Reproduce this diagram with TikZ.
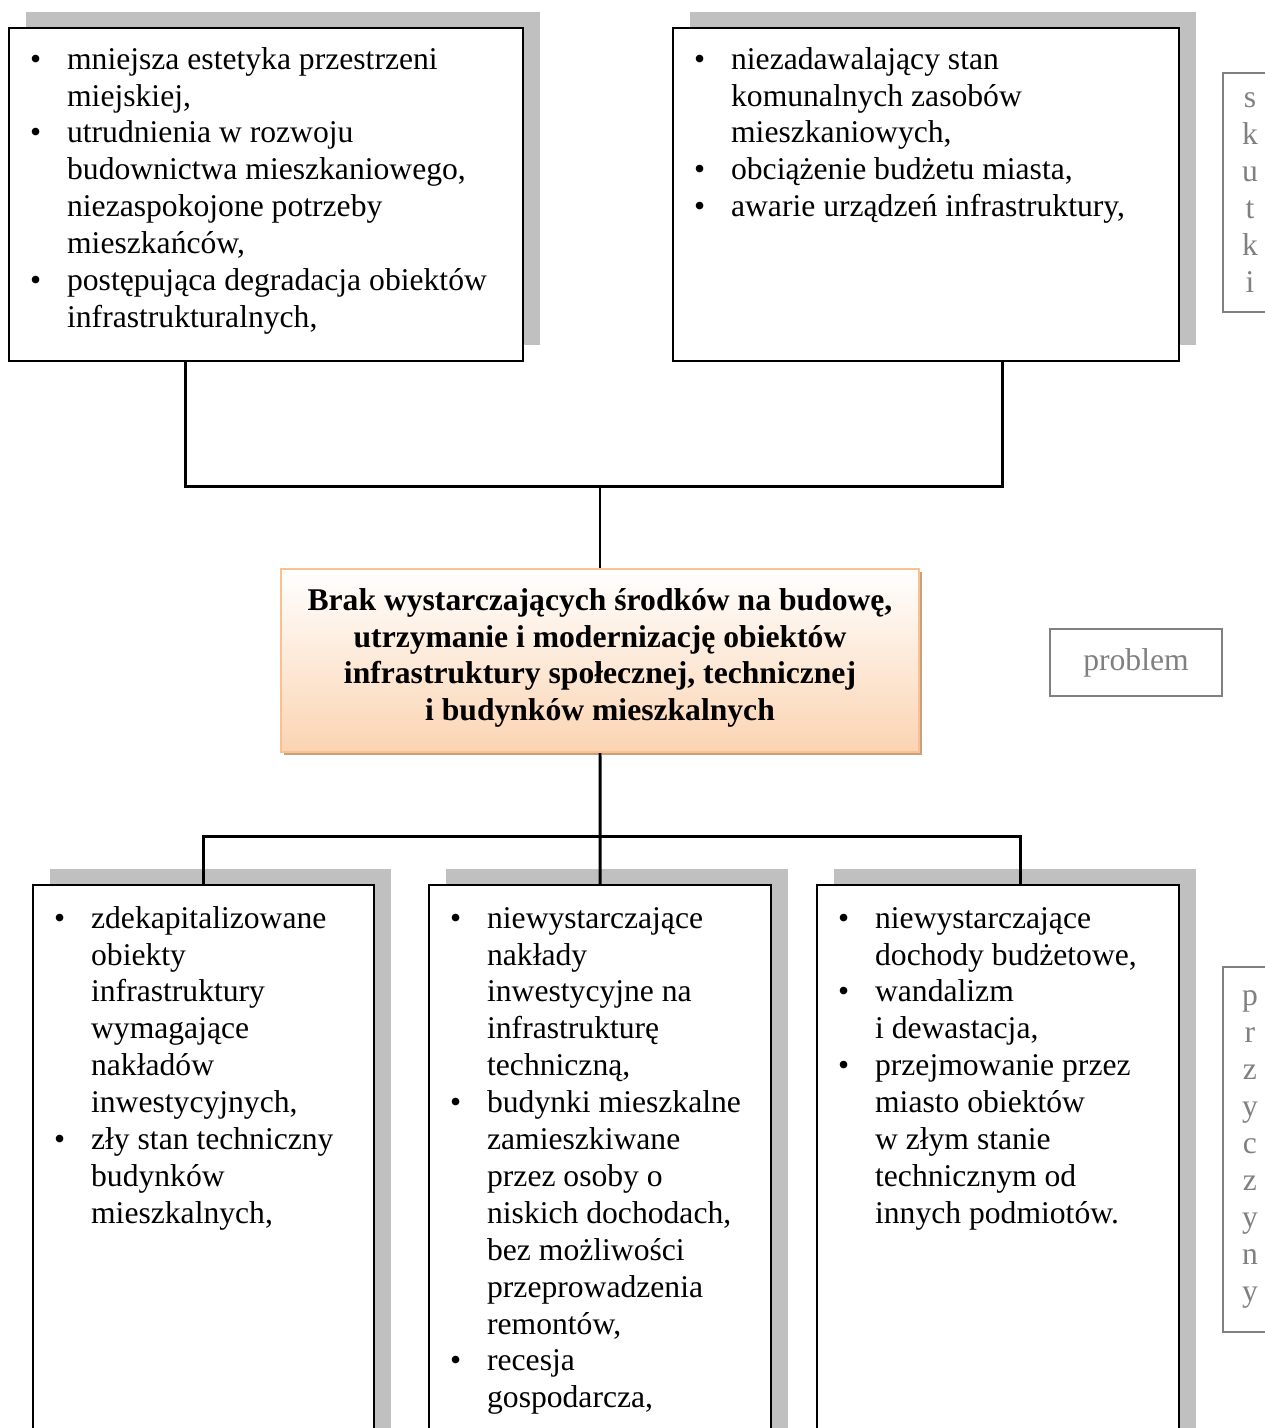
\documentclass[tikz,border=0pt]{standalone}
\usepackage{fontspec}
\setmainfont{Liberation Serif}
\usetikzlibrary{shadows,positioning}
\definecolor{cien}{RGB}{192,192,192}
\definecolor{pomar}{RGB}{250,192,143}
\definecolor{brzoskw}{RGB}{251,212,178}
\definecolor{braz}{RGB}{200,160,125}
\definecolor{szary}{RGB}{128,128,128}
\newcommand{\pkt}[1]{\noindent\hangindent=0.74cm\hangafter=1\makebox[0.74cm][l]{\textbullet}#1\par}
\tikzset{
  lista/.style={
      rectangle,
      draw=black,
      line width=1.3pt,
      fill=white,
      anchor=north west,
      inner xsep=0.42cm,
      inner ysep=0pt,
      align=flush left,
      font=\fontsize{18}{21}\selectfont,
      drop shadow={shadow xshift=0.33cm, shadow yshift=0.33cm, fill=cien, opacity=1}
  },
  glowny/.style={
      rectangle,
      draw=pomar,
      line width=1.3pt,
      top color=white,
      bottom color=brzoskw,
      align=center,
      inner sep=0pt,
      minimum width=12.76cm,
      minimum height=3.66cm,
      font=\fontsize{18}{21}\selectfont\bfseries,
      drop shadow={shadow xshift=0.06cm, shadow yshift=-0.06cm, fill=braz, opacity=1}
  },
  etykieta/.style={
      rectangle,
      draw=szary,
      line width=1.1pt,
      text=szary,
      align=center,
      inner sep=0pt,
      anchor=north west,
      font=\fontsize{18}{21}\selectfont
  },
  linia/.style={line width=1.7pt, black}
}
\begin{document}
\begin{tikzpicture}[x=0.02cm,y=-0.02cm]
  \useasboundingbox (0,0) rectangle (1265,1428);
  \clip (0,0) rectangle (1265,1428);
  % skutki
  \node[lista, text width=9.44cm, text height=0.82cm, text depth=5.84cm] (skL) at (8,27) {%
    \pkt{mniejsza estetyka przestrzeni\newline miejskiej,}%
    \pkt{utrudnienia w rozwoju\newline budownictwa mieszkaniowego,\newline niezaspokojone potrzeby\newline mieszkańców,}%
    \pkt{postępująca degradacja obiektów\newline infrastrukturalnych,}};
  \node[lista, text width=9.28cm, text height=0.82cm, text depth=5.84cm] (skR) at (672,27) {%
    \pkt{niezadawalający stan\newline komunalnych zasobów\newline mieszkaniowych,}%
    \pkt{obciążenie budżetu miasta,}%
    \pkt{awarie urządzeń infrastruktury,}};
  % problem
  \node[glowny] (pr) at (600,660.5) {Brak wystarczających środków na budowę,\\
    utrzymanie i modernizację obiektów\\
    infrastruktury społecznej, technicznej\\
    i budynków mieszkalnych\\[-0.5cm]};
  % przyczyny
  \node[lista, text width=5.98cm, text height=0.86cm, text depth=10.66cm] (p1) at (32,884) {%
    \pkt{zdekapitalizowane\newline obiekty\newline infrastruktury\newline wymagające\newline nakładów\newline inwestycyjnych,}%
    \pkt{zły stan techniczny\newline budynków\newline mieszkalnych,}};
  \node[lista, text width=6.0cm, text height=0.86cm, text depth=10.66cm] (p2) at (428,884) {%
    \pkt{niewystarczające\newline nakłady\newline inwestycyjne na\newline infrastrukturę\newline techniczną,}%
    \pkt{budynki mieszkalne\newline zamieszkiwane\newline przez osoby o\newline niskich dochodach,\newline bez możliwości\newline przeprowadzenia\newline remontów,}%
    \pkt{recesja\newline gospodarcza,}};
  \node[lista, text width=6.4cm, text height=0.86cm, text depth=10.66cm] (p3) at (816,884) {%
    \pkt{niewystarczające\newline dochody budżetowe,}%
    \pkt{wandalizm\newline i dewastacja,}%
    \pkt{przejmowanie przez\newline miasto obiektów\newline w złym stanie\newline technicznym od\newline innych podmiotów.}};
  % etykiety
  \node[etykieta, minimum width=1.08cm, minimum height=4.78cm] (lskutki) at (1222,72) {s\\k\\u\\t\\k\\i};
  \node[etykieta, minimum width=3.44cm, minimum height=1.34cm, anchor=center] (lproblem) at (1136,662.5) {problem};
  \node[etykieta, minimum width=1.08cm, minimum height=7.3cm] (lprzyczyny) at (1222,966) {p\\r\\z\\y\\c\\z\\y\\n\\y};
  % polaczenia
  \draw[linia] ([xshift=-1.62cm]skL.south) -- ++(0,124) coordinate (lg) -| ([xshift=1.52cm]skR.south);
  \draw[linia] (pr.north) -- (pr.north |- lg);
  \draw[linia] (p1.north) -- ++(0,-48) coordinate (ld) -| ([xshift=0.44cm]p3.north);
  \draw[linia] (pr.south) -- (p2.north);
\end{tikzpicture}
\end{document}
